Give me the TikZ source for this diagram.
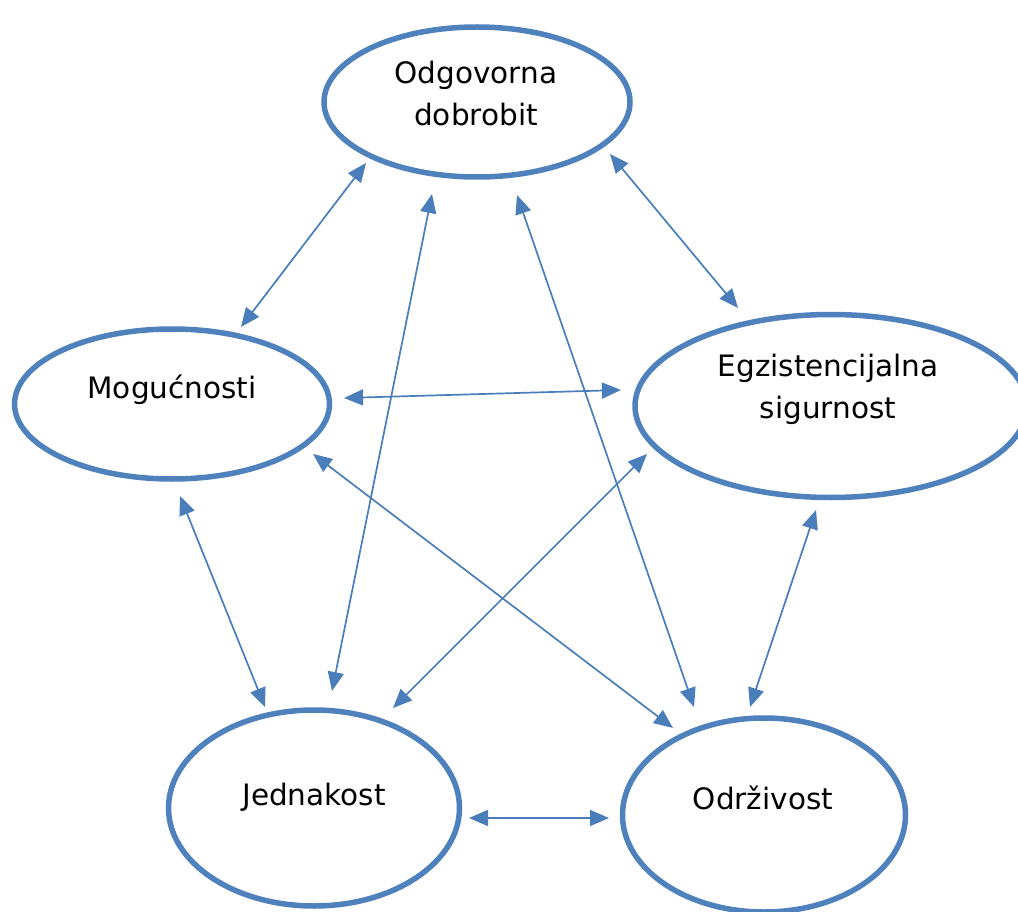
\documentclass[tikz,border=0pt]{standalone}
\usepackage{fontspec}
\setmainfont{DejaVu Sans}
\usetikzlibrary{arrows.meta,shapes.geometric}
\definecolor{ellblue}{HTML}{4F81BD}
\definecolor{arrblue}{HTML}{4A7EBB}
\begin{document}
\begin{tikzpicture}[x=1pt,y=-1pt,
  oval/.style={ellipse, draw=ellblue, line width=5.5pt, inner sep=0pt, outer sep=0pt, fill=white},
  lbl/.style={font=\fontsize{29.5}{42}\selectfont, align=center, inner sep=0pt, text=black},
  link/.style={draw=arrblue, line width=1.7pt, {Triangle[length=19pt,width=16pt]}-{Triangle[length=19pt,width=16pt]}, fill=arrblue}]
\useasboundingbox (0,0) rectangle (1018,912);
% ellipses
\node[oval, minimum width=306pt, minimum height=150pt] (O) at (477,102) {};
\node[oval, minimum width=315pt, minimum height=150pt] (M) at (172,404) {};
\node[oval, minimum width=392pt, minimum height=183pt] (E) at (831,406) {};
\node[oval, minimum width=291pt, minimum height=196pt] (J) at (314,808) {};
\node[oval, minimum width=283pt, minimum height=194pt] (D) at (764,815) {};
% labels
\node[lbl, anchor=base] (Ot) at (476,126) {Odgovorna\\dobrobit};
\node[lbl, anchor=base] (Mt) at (172,398) {Mogućnosti};
\node[lbl, anchor=base] (Et) at (828,418) {Egzistencijalna\\sigurnost};
\node[lbl, anchor=base] (Jt) at (314,805) {Jednakost};
\node[lbl, anchor=base] (Dt) at (763,809) {Održivost};
% arrow end points
\coordinate (a1s) at (366,163); \coordinate (a1e) at (241,327);
\coordinate (a2s) at (432,194); \coordinate (a2e) at (332,691);
\coordinate (a3s) at (517,195); \coordinate (a3e) at (694,707);
\coordinate (a4s) at (610,154); \coordinate (a4e) at (738,308);
\coordinate (a5s) at (344,398); \coordinate (a5e) at (621,390);
\coordinate (a6s) at (313,454); \coordinate (a6e) at (673,728);
\coordinate (a7s) at (180,496); \coordinate (a7e) at (265,707);
\coordinate (a8s) at (647,454); \coordinate (a8e) at (393,708);
\coordinate (a9s) at (816,510); \coordinate (a9e) at (750,707);
\coordinate (a10s) at (469,818); \coordinate (a10e) at (609,818);
% connectors
\draw[link] (a1s) -- (a1e);
\draw[link] (a2s) -- (a2e);
\draw[link] (a3s) -- (a3e);
\draw[link] (a4s) -- (a4e);
\draw[link] (a5s) -- (a5e);
\draw[link] (a6s) -- (a6e);
\draw[link] (a7s) -- (a7e);
\draw[link] (a8s) -- (a8e);
\draw[link] (a9s) -- (a9e);
\draw[link] (a10s) -- (a10e);
\end{tikzpicture}
\end{document}
